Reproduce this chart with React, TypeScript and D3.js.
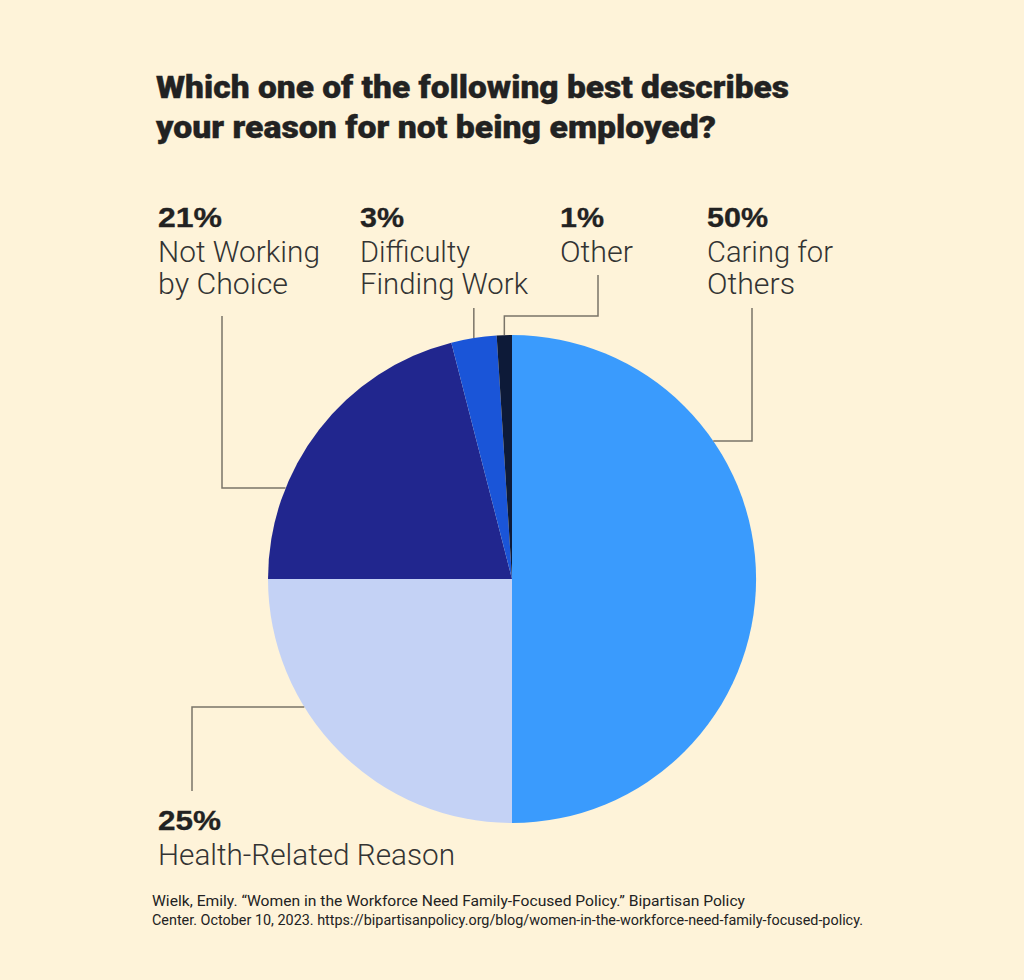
import { useEffect, useRef } from 'react';
import * as d3 from 'd3';

// survey answers, clockwise from 12 o'clock
const categories = ['Caring for Others', 'Health-Related Reason', 'Not Working by Choice', 'Difficulty Finding Work', 'Other'];
const values = [50, 25, 21, 3, 1];
const sliceColors = ['#3a9bfd', '#c4d2f5', '#21268e', '#1a55d8', '#0d1a38'];

const labelLines = [
  ['Caring for', 'Others'],
  ['Health-Related Reason'],
  ['Not Working', 'by Choice'],
  ['Difficulty', 'Finding Work'],
  ['Other'],
];

const titleLines = ['Which one of the following best describes', 'your reason for not being employed?'];
const sourceLines = [
  'Wielk, Emily. \u201cWomen in the Workforce Need Family-Focused Policy.\u201d Bipartisan Policy',
  'Center. October 10, 2023. https://bipartisanpolicy.org/blog/women-in-the-workforce-need-family-focused-policy.',
];

const BG = '#fef3d9';
const INK = '#222';
const LEADER = '#7a7468';

export default function App() {
  const svgRef = useRef<SVGSVGElement | null>(null);

  useEffect(() => {
    const width = 1024;
    const height = 980;
    const cx = 512;
    const cy = 579;
    const r = 244;

    const svg = d3.select(svgRef.current);
    svg.selectAll('*').remove();
    svg.attr('width', width).attr('height', height).attr('viewBox', `0 0 ${width} ${height}`);

    svg.append('rect').attr('width', width).attr('height', height).attr('fill', BG);

    // title -- heavy condensed look: big Roboto black squeezed to the measured widths
    const titleWidths = [633, 560];
    svg.append('g')
      .selectAll('text')
      .data(titleLines)
      .join('text')
      .attr('x', 156)
      .attr('y', (_, i) => 98 + i * 40)
      .attr('textLength', (_, i) => titleWidths[i])
      .attr('lengthAdjust', 'spacingAndGlyphs')
      .style('font-family', 'Roboto, "Liberation Sans", sans-serif')
      .style('font-weight', 900)
      .style('font-size', '32px')
      .attr('fill', INK)
      .attr('stroke', INK)
      .attr('stroke-width', 0.4)
      .text((d) => d);

    const data = categories.map((c, i) => ({ category: c, value: values[i], color: sliceColors[i], lines: labelLines[i] }));

    const pie = d3.pie<any>().sort(null).value((d) => d.value);
    const arcs = pie(data);
    const arc = d3.arc<any>().innerRadius(0).outerRadius(r);

    const g = svg.append('g').attr('transform', `translate(${cx},${cy})`);
    g.selectAll('path')
      .data(arcs)
      .join('path')
      .attr('d', arc)
      .attr('fill', (d) => d.data.color);

    // point on the rim for a given angle
    const rim = (a: number) => [cx + r * Math.sin(a), cy - r * Math.cos(a)];
    const rimAtY = (y: number, side: number) => cx + side * Math.sqrt(r * r - (y - cy) * (y - cy));
    const mid = (i: number) => (arcs[i].startAngle + arcs[i].endAngle) / 2;

    // label layout: text anchor + leader path
    const layout = [
      { x: 707, y: 227, leader: () => { const x0 = rimAtY(441, 1); return [[752, 308], [752, 441], [x0, 441]]; } },
      { x: 158, y: 830, leader: () => { const x0 = rimAtY(707, -1); return [[192, 791], [192, 707], [x0, 707]]; } },
      { x: 158, y: 227, leader: () => { const x0 = rimAtY(488, -1); return [[222, 316], [222, 488], [x0, 488]]; } },
      { x: 360, y: 227, leader: () => { const p = rim(mid(3)); return [[p[0], 308], p]; } },
      { x: 560, y: 227, leader: () => { const p = rim(mid(4)); return [[598, 275], [598, 316], [p[0], 316], p]; } },
    ];

    const pctWidths = [61, 63, 64, 44, 44];
    const lineWidths = [[126, 88], [297], [162, 130], [110, 168], [73]];

    const line = d3.line();
    svg.append('g')
      .selectAll('path')
      .data(layout)
      .join('path')
      .attr('d', (d) => line(d.leader() as [number, number][]))
      .attr('fill', 'none')
      .attr('stroke', LEADER)
      .attr('stroke-width', 1.5);

    const labels = svg.append('g')
      .selectAll('g')
      .data(data)
      .join('g')
      .attr('transform', (_, i) => `translate(${layout[i].x},${layout[i].y})`);

    labels.append('text')
      .attr('textLength', (_, i) => pctWidths[i])
      .attr('lengthAdjust', 'spacingAndGlyphs')
      .style('font-family', '"Liberation Sans", Arial, sans-serif')
      .style('font-weight', 700)
      .style('font-size', '27px')
      .attr('fill', INK)
      .attr('stroke', INK)
      .attr('stroke-width', 0.3)
      .text((d) => `${d.value}%`);

    labels.each(function (d, i) {
      d3.select(this)
        .selectAll('text.lbl')
        .data(d.lines)
        .join('text')
        .attr('class', 'lbl')
        .attr('y', (_, j) => 35 + j * 32)
        .attr('textLength', (_, j) => lineWidths[i][j])
        .attr('lengthAdjust', 'spacingAndGlyphs')
        .style('font-family', 'Roboto, "Open Sans", sans-serif')
        .style('font-weight', 300)
        .style('font-size', '29px')
        .attr('fill', '#333')
        .text((t) => t);
    });

    // source note
    const srcWidths = [593, 711];
    svg.append('g')
      .selectAll('text')
      .data(sourceLines)
      .join('text')
      .attr('x', 152)
      .attr('y', (_, i) => 906 + i * 19)
      .attr('textLength', (_, i) => srcWidths[i])
      .attr('lengthAdjust', 'spacingAndGlyphs')
      .style('font-family', 'Roboto, "Liberation Sans", sans-serif')
      .style('font-size', '14.5px')
      .attr('fill', INK)
      .text((d) => d);
  }, []);

  return <svg ref={svgRef} style={{ display: 'block', position: 'absolute', left: 0, top: 0 }} />;
}
